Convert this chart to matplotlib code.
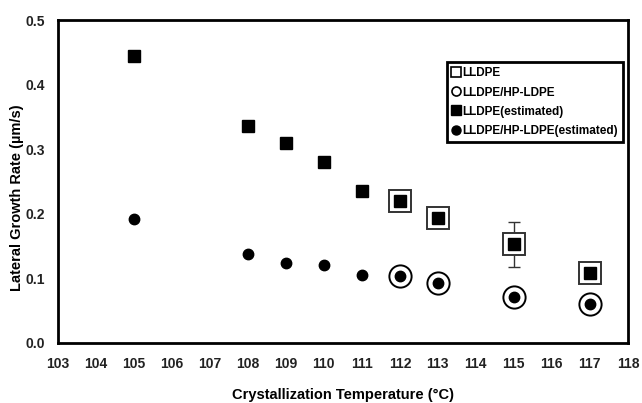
import matplotlib
matplotlib.use("Agg")
import matplotlib.pyplot as plt
from matplotlib.lines import Line2D

plt.rcParams['font.family'] = ['Liberation Sans', 'DejaVu Sans']
plt.rcParams['font.weight'] = 'bold'

# measured temperatures (open symbols)
t_meas = [112, 113, 115, 117]
lldpe_meas = [0.220, 0.193, 0.153, 0.108]
blend_meas = [0.104, 0.093, 0.071, 0.060]
lldpe_err = [0.0, 0.0, 0.035, 0.0]

# estimated values (filled symbols)
t_est = [105, 108, 109, 110, 111, 112, 113, 115, 117]
lldpe_est = [0.444, 0.336, 0.310, 0.280, 0.235, 0.220, 0.193, 0.153, 0.108]
blend_est = [0.192, 0.138, 0.124, 0.121, 0.105, 0.104, 0.093, 0.071, 0.060]

xticks = list(range(103, 119))
yticks = [0.0, 0.1, 0.2, 0.3, 0.4, 0.5]

fig = plt.figure(figsize=(6.42, 4.03), dpi=100)
ax = fig.add_axes([0.090, 0.149, 0.888, 0.801])

ax.errorbar(t_meas, lldpe_meas, yerr=lldpe_err, fmt='none', ecolor='#333333',
            elinewidth=1, capsize=4, capthick=1, zorder=1)
ax.plot(t_meas, lldpe_meas, 's', ms=16, mfc='white', mec='#333333', mew=1.4,
        label='LLDPE', zorder=2)
ax.plot(t_meas, blend_meas, 'o', ms=16, mfc='white', mec='black', mew=1.4,
        label='LLDPE/HP-LDPE', zorder=2)
ax.plot(t_est, lldpe_est, 's', ms=8, color='black', label='LLDPE(estimated)', zorder=3)
ax.plot(t_est, blend_est, 'o', ms=7.5, color='black', label='LLDPE/HP-LDPE(estimated)', zorder=3)

ax.set_xlim(103, 118)
ax.set_ylim(0, 0.5)
ax.set_xticks(xticks)
ax.set_yticks(yticks)
ax.set_yticklabels(['%.1f' % v for v in yticks])
ax.tick_params(length=0, labelsize=10, colors='#222222')
ax.tick_params(axis='x', pad=10)
ax.tick_params(axis='y', pad=9)
for lab in ax.get_xticklabels() + ax.get_yticklabels():
    lab.set_fontweight('bold')
for s in ax.spines.values():
    s.set_linewidth(2)

ax.set_xlabel('Crystallization Temperature (°C)', fontsize=10.5, fontweight='bold', labelpad=12)
ax.set_ylabel('Lateral Growth Rate (µm/s)', fontsize=10.5, fontweight='bold')
ax.yaxis.set_label_coords(-0.060, 0.45)

# legend uses small marker versions
handles = [
    Line2D([], [], ls='none', marker='s', ms=6.5, mfc='white', mec='black', mew=1.2),
    Line2D([], [], ls='none', marker='o', ms=6.5, mfc='white', mec='black', mew=1.2),
    Line2D([], [], ls='none', marker='s', ms=6.5, color='black'),
    Line2D([], [], ls='none', marker='o', ms=6.5, color='black'),
]
labels = ['LLDPE', 'LLDPE/HP-LDPE', 'LLDPE(estimated)', 'LLDPE/HP-LDPE(estimated)']
leg = ax.legend(handles, labels, loc='upper right', bbox_to_anchor=(0.991, 0.870),
                prop={'weight': 'bold', 'size': 8.5}, handlelength=0.6,
                handletextpad=0.2, borderpad=0.45, labelspacing=0.6, fancybox=False,
                framealpha=1, edgecolor='black', borderaxespad=0)
leg.get_frame().set_linewidth(2)

fig.savefig('out.png', dpi=100)
